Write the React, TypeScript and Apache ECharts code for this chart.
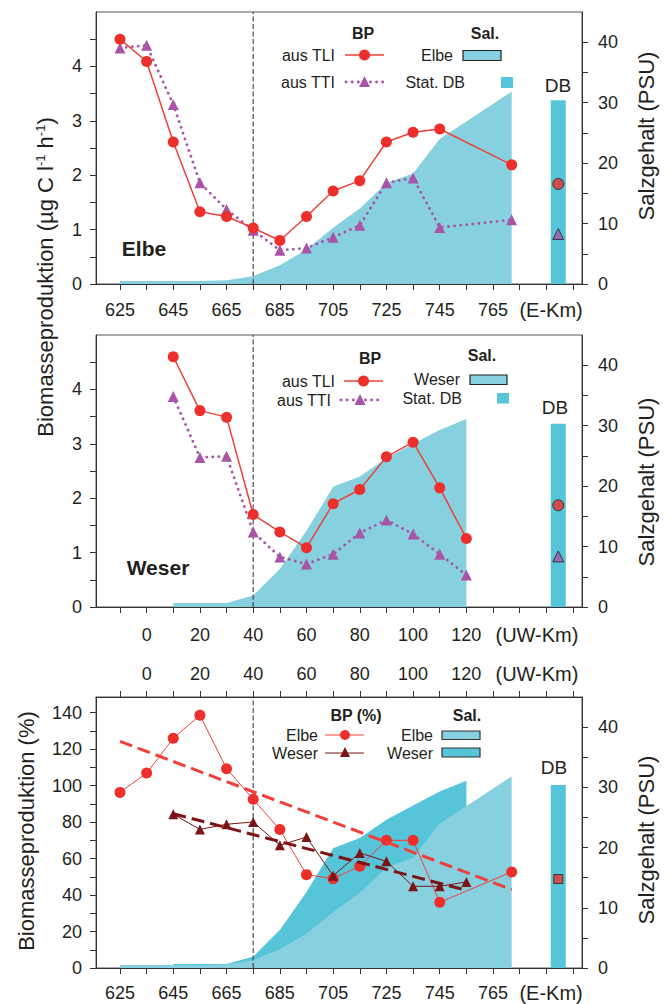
import React, { useEffect, useRef } from 'react';
import * as echarts from 'echarts';

const FONT = '"Liberation Sans", Arial, Helvetica, sans-serif';
const TXT = '#231f20';
const AX = '#333333';
const RED = '#ec2f2b';
const RED_LINE = '#ee4039';
const PURPLE = '#a855a8';
const DARKRED = '#7b1416';
const SAL_LIGHT = '#86d0e0';
const SAL_DARK = '#56c5d9';

// ---------- Panel 1: Elbe (E-Km) ----------
const elbeKm = [625, 635, 645, 655, 665, 675, 685, 695, 705, 715, 725, 735, 745, 772];
const elbeTLI = [4.5, 4.09, 2.61, 1.33, 1.24, 1.03, 0.8, 1.24, 1.71, 1.9, 2.61, 2.79, 2.85, 2.19];
const elbeTTI = [4.34, 4.39, 3.3, 1.86, 1.37, 0.99, 0.62, 0.66, 0.86, 1.08, 1.86, 1.95, 1.04, 1.18];
const elbeSal = [0.5, 0.5, 0.5, 0.5, 0.6, 1.3, 3.1, 5.7, 9.3, 12.5, 16.7, 18.3, 24.0, 31.8];
const elbeDbKm = [789.5];
const elbeDbTLI = [1.84];
const elbeDbTTI = [0.92];
const elbeDbSal = [30.4];

// ---------- Panel 2: Weser (UW-Km) ----------
const weserUw = [10, 20, 30, 40, 50, 60, 70, 80, 90, 100, 110, 120];
const weserTLI = [4.6, 3.61, 3.49, 1.7, 1.38, 1.09, 1.9, 2.16, 2.76, 3.03, 2.19, 1.26];
const weserTTI = [3.87, 2.75, 2.77, 1.38, 0.92, 0.79, 0.97, 1.36, 1.6, 1.34, 0.97, 0.59];
const weserSal = [0.66, 0.66, 0.66, 1.9, 6.3, 12.6, 19.9, 21.6, 24.6, 27.0, 29.3, 31.1];
const weserDbUw = [154.5];
const weserDbTLI = [1.87];
const weserDbTTI = [0.93];
const weserDbSal = [30.3];

// ---------- Panel 3: BP (%) ----------
const elbePct = [96.3, 106.9, 126.0, 138.6, 109.3, 92.5, 75.9, 51.2, 49.0, 55.8, 70.0, 70.0, 36.0, 52.7];
const weserPct = [84.3, 76.0, 78.8, 80.1, 67.3, 71.8, 50.6, 63.1, 58.5, 44.8, 44.8, 47.2];
const elbeTrendKm = [625, 772];
const elbeTrendPct = [124.3, 43.0];
const weserTrendUw = [10, 120];
const weserTrendPct = [84.6, 42.6];
const dbPct = [48.8];

// reference line (Elbe 675 = UW 40)
const refKm = 675;
const refUw = 40;

// ---------- axes ----------
const E_MIN = 616;
const E_MAX = 798.4;
const UW_MIN = -19;
const UW_MAX = 163.4;
const eTickVals = [625, 635, 645, 655, 665, 675, 685, 695, 705, 715, 725, 735, 745, 755, 765, 775, 785, 795];
const eLabelVals = [625, 645, 665, 685, 705, 725, 745, 765, 786.8];
const uwTickVals = [-10, 0, 10, 20, 30, 40, 50, 60, 70, 80, 90, 100, 110, 120, 130, 140, 150, 160];
const uwLabelVals = [0, 20, 40, 60, 80, 100, 120, 146.5];
const bpTickVals = [0, 0.5, 1, 1.5, 2, 2.5, 3, 3.5, 4, 4.5];
const bpLabelVals = [0, 1, 2, 3, 4];
const salTickVals = [0, 5, 10, 15, 20, 25, 30, 35, 40];
const salLabelVals = [0, 10, 20, 30, 40];
const pctTickVals = [0, 10, 20, 30, 40, 50, 60, 70, 80, 90, 100, 110, 120, 130, 140];
const pctLabelVals = [0, 20, 40, 60, 80, 100, 120, 140];

const zip = (xs: number[], ys: number[]) => xs.map((x, i) => [x, ys[i]]);

function mkX(gridIndex: number, isE: boolean, position: 'top' | 'bottom', margin: number) {
  return {
    type: 'value',
    gridIndex,
    position,
    min: isE ? E_MIN : UW_MIN,
    max: isE ? E_MAX : UW_MAX,
    axisLine: { show: true, onZero: false, lineStyle: { color: AX, width: 1 } },
    axisTick: {
      show: true,
      inside: false,
      length: 6,
      customValues: isE ? eTickVals : uwTickVals,
      lineStyle: { color: AX, width: 1 },
    },
    axisLabel: {
      show: true,
      customValues: isE ? eLabelVals : uwLabelVals,
      formatter: (v: number) =>
        isE ? (v > 780 ? '{u|(E-Km)}' : String(v)) : v > 140 ? '{u|(UW-Km)}' : String(v),
      rich: { u: { fontSize: 20, lineHeight: 18, fontFamily: FONT, color: TXT } },
      lineHeight: 18,
      margin,
      color: TXT,
      fontSize: 18,
      fontFamily: FONT,
    },
    splitLine: { show: false },
    z: 10,
  };
}

function mkY(gridIndex: number, position: 'left' | 'right', max: number, ticks: number[], labels: number[]) {
  return {
    type: 'value',
    gridIndex,
    position,
    min: 0,
    max,
    axisLine: { show: true, onZero: false, lineStyle: { color: AX, width: 1 } },
    axisTick: { show: true, inside: false, length: 6, customValues: ticks, lineStyle: { color: AX, width: 1 } },
    axisLabel: {
      show: true,
      customValues: labels,
      margin: position === 'left' ? 14 : 16,
      color: TXT,
      fontSize: 18,
      fontFamily: FONT,
    },
    splitLine: { show: false },
    z: 10,
  };
}

function areaSeries(xi: number, yi: number, data: number[][], color: string, z = 1) {
  return {
    type: 'line',
    xAxisIndex: xi,
    yAxisIndex: yi,
    data,
    symbol: 'none',
    lineStyle: { width: 0, color },
    areaStyle: { color, opacity: 1 },
    silent: true,
    z,
  };
}

function barSeries(xi: number, yi: number, data: number[][]) {
  return {
    type: 'bar',
    xAxisIndex: xi,
    yAxisIndex: yi,
    data,
    barWidth: 15,
    itemStyle: { color: SAL_DARK },
    silent: true,
    z: 2,
  };
}

function refLine(xi: number, yi: number, x: number, ymax: number) {
  return {
    type: 'line',
    xAxisIndex: xi,
    yAxisIndex: yi,
    data: [
      [x, 0],
      [x, ymax],
    ],
    symbol: 'none',
    lineStyle: { color: '#4a4a4a', width: 1.2, type: [5, 2.5] },
    silent: true,
    z: 3,
  };
}

function tliSeries(xi: number, yi: number, data: number[][]) {
  return {
    type: 'line',
    xAxisIndex: xi,
    yAxisIndex: yi,
    data,
    symbol: 'circle',
    symbolSize: 11,
    itemStyle: { color: RED },
    lineStyle: { color: RED_LINE, width: 1.5 },
    z: 6,
  };
}

function ttiSeries(xi: number, yi: number, data: number[][]) {
  return {
    type: 'line',
    xAxisIndex: xi,
    yAxisIndex: yi,
    data,
    symbol: 'triangle',
    symbolSize: 11,
    itemStyle: { color: PURPLE },
    lineStyle: { color: PURPLE, width: 2.8, type: [0.1, 6], cap: 'round' },
    z: 5,
  };
}

function dbMarker(xi: number, yi: number, data: number[][], symbol: string, color: string, size: number) {
  return {
    type: 'scatter',
    xAxisIndex: xi,
    yAxisIndex: yi,
    data,
    symbol,
    symbolSize: size,
    itemStyle: { color, borderColor: '#222', borderWidth: 1 },
    z: 7,
  };
}

// ---------- graphic helpers ----------
function txt(x: number, y: number, text: string, size: number, align: string, bold = false, extra: any = {}) {
  return {
    type: 'text',
    x,
    y,
    silent: true,
    z: 100,
    style: {
      text,
      fontSize: size,
      fontFamily: FONT,
      fontWeight: bold ? 'bold' : 'normal',
      fill: TXT,
      align,
      verticalAlign: 'middle',
      textAlign: align,
      textVerticalAlign: 'middle',
      ...extra,
    },
  };
}

function hline(x1: number, x2: number, y: number, color: string, width: number, dash?: number[]) {
  return {
    type: 'line',
    silent: true,
    z: 100,
    shape: { x1, y1: y, x2, y2: y },
    style: { stroke: color, lineWidth: width, lineDash: dash, lineCap: dash ? 'round' : 'butt' },
  };
}

function dot(cx: number, cy: number, r: number, color: string) {
  return { type: 'circle', silent: true, z: 101, shape: { cx, cy, r }, style: { fill: color } };
}

function tri(cx: number, cy: number, s: number, color: string) {
  return {
    type: 'polygon',
    silent: true,
    z: 101,
    shape: {
      points: [
        [cx, cy - s / 2],
        [cx + s / 2, cy + s / 2],
        [cx - s / 2, cy + s / 2],
      ],
    },
    style: { fill: color },
  };
}

function box(x: number, y: number, w: number, h: number, fill: string, stroke?: string) {
  return {
    type: 'rect',
    silent: true,
    z: 100,
    shape: { x, y, width: w, height: h },
    style: { fill, stroke: stroke || null, lineWidth: stroke ? 1.2 : 0 },
  };
}

function vtext(x: number, y: number, text: string, rich?: any) {
  return {
    type: 'text',
    x,
    y,
    rotation: Math.PI / 2,
    silent: true,
    z: 100,
    style: {
      text,
      fontSize: 22,
      fontFamily: FONT,
      fill: TXT,
      align: 'center',
      verticalAlign: 'middle',
      textAlign: 'center',
      textVerticalAlign: 'middle',
      rich,
    },
  };
}

function buildOption() {
  const grids = [
    { left: 96, right: 88, top: 12, height: 272 },
    { left: 96, right: 88, top: 335, height: 272 },
    { left: 96, right: 88, top: 697, height: 271 },
  ].map((g) => ({ ...g, show: true, borderColor: '#555', borderWidth: 1, backgroundColor: 'transparent', outerBoundsMode: 'none' }));

  const xAxis = [
    mkX(0, true, 'bottom', 17),
    mkX(1, false, 'bottom', 19),
    mkX(2, true, 'bottom', 16),
    mkX(2, false, 'top', 14),
  ];
  const yAxis = [
    mkY(0, 'left', 5, bpTickVals, bpLabelVals),
    mkY(0, 'right', 45, salTickVals, salLabelVals),
    mkY(1, 'left', 5, bpTickVals, bpLabelVals),
    mkY(1, 'right', 45, salTickVals, salLabelVals),
    mkY(2, 'left', 148.6, pctTickVals, pctLabelVals),
    mkY(2, 'right', 45, salTickVals, salLabelVals),
  ];

  const series: any[] = [
    // Panel 1
    areaSeries(0, 1, zip(elbeKm, elbeSal), SAL_LIGHT),
    barSeries(0, 1, zip(elbeDbKm, elbeDbSal)),
    refLine(0, 0, refKm, 5),
    ttiSeries(0, 0, zip(elbeKm, elbeTTI)),
    tliSeries(0, 0, zip(elbeKm, elbeTLI)),
    dbMarker(0, 0, zip(elbeDbKm, elbeDbTLI), 'circle', RED, 11),
    dbMarker(0, 0, zip(elbeDbKm, elbeDbTTI), 'triangle', PURPLE, 11),
    // Panel 2
    areaSeries(1, 3, zip(weserUw, weserSal), SAL_LIGHT),
    barSeries(1, 3, zip(weserDbUw, weserDbSal)),
    refLine(1, 2, refUw, 5),
    ttiSeries(1, 2, zip(weserUw, weserTTI)),
    tliSeries(1, 2, zip(weserUw, weserTLI)),
    dbMarker(1, 2, zip(weserDbUw, weserDbTLI), 'circle', RED, 11),
    dbMarker(1, 2, zip(weserDbUw, weserDbTTI), 'triangle', PURPLE, 11),
    // Panel 3
    areaSeries(3, 5, zip(weserUw, weserSal), SAL_DARK, 1),
    areaSeries(2, 5, zip(elbeKm, elbeSal), SAL_LIGHT, 2),
    barSeries(2, 5, zip(elbeDbKm, elbeDbSal)),
    refLine(2, 4, refKm, 148.6),
    {
      type: 'line',
      xAxisIndex: 2,
      yAxisIndex: 4,
      data: zip(elbeKm, elbePct),
      symbol: 'circle',
      symbolSize: 11,
      itemStyle: { color: RED },
      lineStyle: { color: RED_LINE, width: 1 },
      z: 5,
    },
    {
      type: 'line',
      xAxisIndex: 3,
      yAxisIndex: 4,
      data: zip(weserUw, weserPct),
      symbol: 'triangle',
      symbolSize: 10,
      itemStyle: { color: DARKRED },
      lineStyle: { color: DARKRED, width: 1 },
      z: 6,
    },
    {
      type: 'line',
      xAxisIndex: 2,
      yAxisIndex: 4,
      data: zip(elbeTrendKm, elbeTrendPct),
      symbol: 'none',
      lineStyle: { color: RED_LINE, width: 3, type: [13, 6] },
      z: 7,
    },
    {
      type: 'line',
      xAxisIndex: 3,
      yAxisIndex: 4,
      data: zip(weserTrendUw, weserTrendPct),
      symbol: 'none',
      lineStyle: { color: DARKRED, width: 3, type: [13, 6] },
      z: 7,
    },
    dbMarker(2, 4, zip(elbeDbKm, dbPct), 'rect', RED, 9),
  ];

  const graphic: any[] = [
    // ---- legend panel 1
    txt(363, 33, 'BP', 16, 'center', true),
    txt(485, 33, 'Sal.', 16, 'center', true),
    txt(335, 55, 'aus TLI', 16, 'right'),
    hline(345, 384, 55, RED_LINE, 1.5),
    dot(364.5, 55, 5.5, RED),
    txt(335, 82, 'aus TTI', 16, 'right'),
    hline(346, 384, 82, PURPLE, 2.8, [0.1, 6]),
    tri(364.5, 81.5, 11, PURPLE),
    txt(453, 55, 'Elbe', 16, 'right'),
    box(463, 50.5, 38, 10, SAL_LIGHT, '#222'),
    txt(465, 82, 'Stat. DB', 16, 'right'),
    box(501, 77, 12, 11, SAL_DARK),
    txt(144, 248, 'Elbe', 21, 'center', true),
    txt(558, 85, 'DB', 19, 'center'),
    // ---- legend panel 2
    txt(370, 358, 'BP', 16, 'center', true),
    txt(482, 355, 'Sal.', 16, 'center', true),
    txt(335, 381, 'aus TLI', 16, 'right'),
    hline(344, 383, 381, RED_LINE, 1.5),
    dot(363.5, 381, 5.5, RED),
    txt(331, 400, 'aus TTI', 16, 'right'),
    hline(341, 379, 400, PURPLE, 2.8, [0.1, 6]),
    tri(360, 399.5, 11, PURPLE),
    txt(460, 379.5, 'Weser', 16, 'right'),
    box(470, 375, 37, 9.5, SAL_LIGHT, '#222'),
    txt(462, 398.5, 'Stat. DB', 16, 'right'),
    box(497, 393, 12, 10.5, SAL_DARK),
    txt(158, 567, 'Weser', 21, 'center', true),
    txt(555, 407, 'DB', 19, 'center'),
    // ---- legend panel 3
    txt(356, 715, 'BP (%)', 16, 'center', true),
    txt(467, 715, 'Sal.', 16, 'center', true),
    txt(318, 735, 'Elbe', 16, 'right'),
    hline(325, 364, 735, RED_LINE, 1),
    dot(345, 735, 5, RED),
    txt(318, 753, 'Weser', 16, 'right'),
    hline(325, 364, 753, DARKRED, 1),
    tri(345, 752, 10, DARKRED),
    txt(433, 735, 'Elbe', 16, 'right'),
    box(442, 731, 38, 8.5, SAL_LIGHT, '#333'),
    txt(433, 753, 'Weser', 16, 'right'),
    box(442, 748, 38, 9, SAL_DARK, '#333'),
    txt(554, 767, 'DB', 19, 'center'),
    // ---- axis names
    vtext(45, 277, 'Biomasseproduktion (µg C l{sup|-1} h{sup|-1})', {
      sup: { fontSize: 13, fontFamily: FONT, fill: TXT, verticalAlign: 'top', padding: [0, 0, 8, 0] },
    }),
    vtext(26, 831, 'Biomasseproduktion (%)'),
    vtext(646, 136, 'Salzgehalt (PSU)'),
    vtext(646, 482, 'Salzgehalt (PSU)'),
    vtext(646, 840, 'Salzgehalt (PSU)'),
  ];

  return {
    animation: false,
    backgroundColor: '#ffffff',
    textStyle: { fontFamily: FONT },
    grid: grids,
    xAxis,
    yAxis,
    series,
    graphic,
  };
}

export default function App() {
  const ref = useRef<HTMLDivElement>(null);
  useEffect(() => {
    if (!ref.current) return;
    const chart = echarts.init(ref.current, null, { renderer: 'svg' });
    chart.setOption(buildOption() as any);
    return () => chart.dispose();
  }, []);
  return (
    <div
      ref={ref}
      style={{ position: 'absolute', left: 0, top: 0, width: 670, height: 1004, background: '#fff' }}
    />
  );
}
